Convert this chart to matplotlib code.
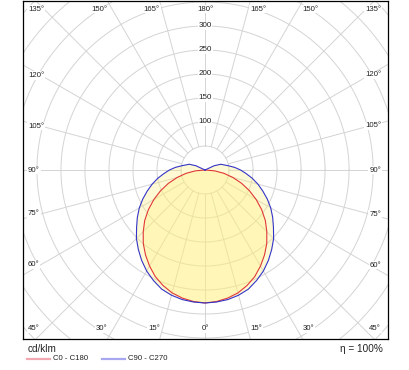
import numpy as np
import matplotlib
matplotlib.use("Agg")
import matplotlib.pyplot as plt
from matplotlib.lines import Line2D

plt.rcParams['font.family'] = ['Liberation Sans', 'DejaVu Sans']

# gamma angles (deg) and intensities (cd/klm)
gamma = list(range(0, 181, 5))
c0_c180 = [277, 275, 271, 265, 256, 245, 231, 216, 200, 182, 164, 144, 123, 102, 81, 60, 40, 20, 0,
           0, 0, 0, 0, 0, 0, 0, 0, 0, 0, 0, 0, 0, 0, 0, 0, 0, 0]
c90_c270 = [277, 276, 274, 270, 264, 254, 243, 230, 216, 202, 186, 172, 158, 143, 128, 114, 100, 86, 74,
            62, 50, 41, 35, 21, 0, 0, 0, 0, 0, 0, 0, 0, 0, 0, 0, 0, 0]
ring_values = [50, 100, 150, 200, 250, 300, 350, 400, 450, 500, 550]
ring_labels = [100, 150, 200, 250, 300]
angle_ticks = list(range(0, 181, 15))
series_names = ["C0 - C180", "C90 - C270"]
eta_text = "η = 100%"
unit_text = "cd/klm"

red = "#e03838"
blue = "#3434c8"


def to_xy(values):
    """Both halves of a plane: left half (C180/C270) then right half (C0/C90)."""
    g = np.radians(gamma)
    v = np.array(values, dtype=float)
    x = np.concatenate([-(v * np.sin(g))[::-1], v * np.sin(g)])
    y = np.concatenate([-(v * np.cos(g))[::-1], -v * np.cos(g)])
    return x, y


fig = plt.figure(figsize=(4.1, 3.7), dpi=100)
ax = fig.add_axes([23 / 410, 31 / 370, 365 / 410, 338 / 370])
ax.set_xlim(-379, 381)
ax.set_ylim(-352, 352)
px = 1 / 0.48  # data units per pixel

# polar grid
t = np.linspace(0, 2 * np.pi, 400)
for r in ring_values:
    ax.plot(r * np.cos(t), r * np.sin(t), color="#d4d4d4", lw=0.7, zorder=1)
for a in range(0, 360, 15):
    ar = np.radians(a)
    ax.plot([50 * np.sin(ar), 600 * np.sin(ar)], [-50 * np.cos(ar), -600 * np.cos(ar)],
            color="#d4d4d4", lw=0.7, zorder=1)

# curves
for vals in (c90_c270, c0_c180):
    x, y = to_xy(vals)
    ax.fill(x, y, color="#fff07a", alpha=0.32, lw=0, zorder=2)
for vals, col in ((c0_c180, red), (c90_c270, blue)):
    x, y = to_xy(vals)
    ax.plot(x, y, color=col, lw=0.8, zorder=3)

# ring labels along the 180 deg axis
for r in ring_labels:
    ax.text(0, r, str(r), ha="center", va="center", fontsize=5.8, color="#222222", zorder=5,
            bbox=dict(facecolor="white", edgecolor="none", pad=0.6))

# angle labels at the frame
x0, x1 = ax.get_xlim()
y0, y1 = ax.get_ylim()
lab_kw = dict(fontsize=5.6, color="#222222", zorder=5,
              bbox=dict(facecolor="white", edgecolor="none", pad=0.6))
for g in angle_ticks:
    for side in (-1, 1):
        if g in (0, 180) and side == 1:
            continue
        gr = np.radians(g)
        dx, dy = side * np.sin(gr), -np.cos(gr)
        lab = f"{g}°"
        xl = x0 + 5 * px if side < 0 else x1 - 7 * px
        hal = "left" if side < 0 else "right"
        if g in (45, 135):
            yl = y0 + 10 * px if g == 45 else y1 - 8 * px
            ax.text(xl, yl, lab, ha=hal, va="center", **lab_kw)
            continue
        tx = ((x1 if dx > 0 else x0) / dx) if abs(dx) > 1e-9 else np.inf
        ty = ((y1 if dy > 0 else y0) / dy) if abs(dy) > 1e-9 else np.inf
        if tx < ty:
            ax.text(xl, 0.9 * tx * dy, lab, ha=hal, va="center", **lab_kw)
        else:
            yl = y0 + 10 * px if dy < 0 else y1 - 8 * px
            ha = "center" if g in (0, 180) else ("right" if side < 0 else "left")
            ax.text(ty * dx, yl, lab, ha=ha, va="center", **lab_kw)

ax.set_xticks([])
ax.set_yticks([])
for s in ax.spines.values():
    s.set_linewidth(0.9)
    s.set_color("black")

# texts and legend below the frame
fig.text(28 / 410, 1 - 349 / 370, unit_text, ha="left", va="center", fontsize=7.2, color="#222222")
fig.text(383 / 410, 1 - 349 / 370, eta_text, ha="right", va="center", fontsize=7.2, color="#222222")
ly = 1 - 359 / 370
fig.add_artist(Line2D([27 / 410, 50 / 410], [ly, ly], color="#f2a8b0", lw=1.6))
fig.text(53 / 410, ly, series_names[0], ha="left", va="center", fontsize=5.6, color="#222222")
fig.add_artist(Line2D([102 / 410, 125 / 410], [ly, ly], color="#a8a8f0", lw=1.6))
fig.text(128 / 410, ly, series_names[1], ha="left", va="center", fontsize=5.6, color="#222222")

fig.savefig("out.png", dpi=100)
